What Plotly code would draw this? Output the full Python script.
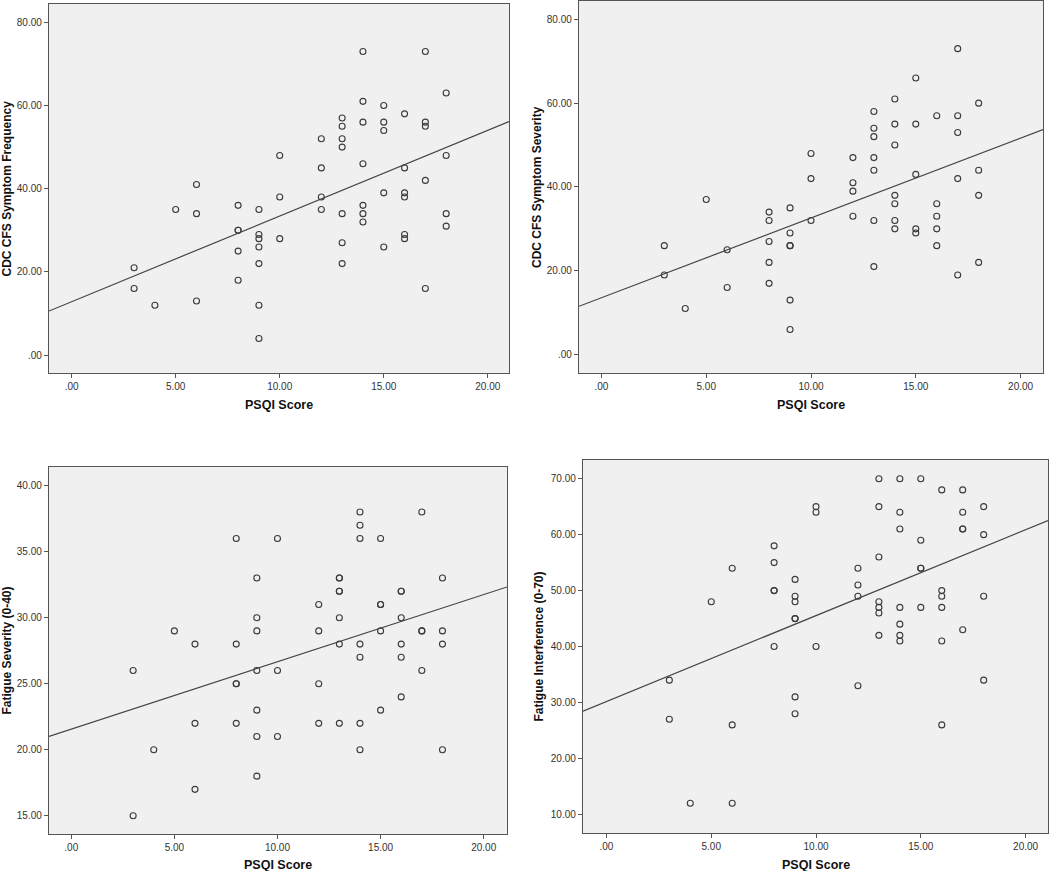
import numpy as np
import plotly.graph_objects as go

# ---------------- data ----------------
x_label = "PSQI Score"

p1_title = "CDC CFS Symptom Frequency"
p1_x = [3]*2 + [4] + [5] + [6]*3 + [8]*5 + [9]*7 + [10]*3 + [12]*4 + [13]*7 + [14]*7 + [15]*5 + [16]*6 + [17]*5 + [18]*4
p1_y = [21, 16, 12, 35, 41, 34, 13, 36, 30, 30, 25, 18, 35, 29, 28, 26, 22, 12, 4, 48, 38, 28,
        52, 45, 38, 35, 57, 55, 52, 50, 34, 27, 22, 73, 61, 56, 46, 36, 34, 32,
        60, 56, 54, 39, 26, 58, 45, 39, 38, 29, 28, 73, 56, 55, 42, 16, 63, 48, 34, 31]

p2_title = "CDC CFS Symptom Severity"
p2_x = [3]*2 + [4] + [5] + [6]*2 + [8]*5 + [9]*6 + [10]*3 + [12]*4 + [13]*7 + [14]*7 + [15]*5 + [16]*5 + [17]*5 + [18]*4
p2_y = [26, 19, 11, 37, 25, 16, 34, 32, 27, 22, 17, 35, 29, 26, 26, 13, 6, 48, 42, 32,
        47, 41, 39, 33, 58, 54, 52, 47, 44, 32, 21, 61, 55, 50, 38, 36, 32, 30,
        66, 55, 43, 30, 29, 57, 36, 33, 30, 26, 73, 57, 53, 42, 19, 60, 44, 38, 22]

p3_title = "Fatigue Severity (0-40)"
p3_x = [3]*2 + [4] + [5] + [6]*3 + [8]*5 + [9]*7 + [10]*3 + [12]*4 + [13]*7 + [14]*7 + [15]*5 + [16]*6 + [17]*4 + [18]*4
p3_y = [26, 15, 20, 29, 28, 22, 17, 36, 28, 25, 25, 22, 33, 30, 29, 26, 23, 21, 18, 36, 26, 21,
        31, 29, 25, 22, 33, 33, 32, 32, 30, 28, 22, 38, 37, 36, 28, 27, 22, 20,
        36, 31, 31, 29, 23, 32, 32, 30, 28, 27, 24, 38, 29, 29, 26, 33, 29, 28, 20]

p4_title = "Fatigue Interference (0-70)"
p4_x = [3]*2 + [4] + [5] + [6]*3 + [8]*5 + [9]*7 + [10]*3 + [12]*4 + [13]*7 + [14]*7 + [15]*5 + [16]*6 + [17]*5 + [18]*4
p4_y = [34, 27, 12, 48, 54, 26, 12, 58, 55, 50, 50, 40, 52, 49, 48, 45, 45, 31, 28, 65, 64, 40,
        54, 51, 49, 33, 70, 65, 56, 48, 47, 46, 42, 70, 64, 61, 47, 44, 42, 41,
        70, 59, 54, 54, 47, 68, 50, 49, 47, 41, 26, 68, 64, 61, 61, 43, 65, 60, 49, 34]

x_tickvals = [0, 5, 10, 15, 20]
x_ticktext = [".00", "5.00", "10.00", "15.00", "20.00"]
p1_yticks = [0, 20, 40, 60, 80]
p1_ytext = [".00", "20.00", "40.00", "60.00", "80.00"]
p2_yticks = [0, 20, 40, 60, 80]
p2_ytext = [".00", "20.00", "40.00", "60.00", "80.00"]
p3_yticks = [15, 20, 25, 30, 35, 40]
p3_ytext = ["15.00", "20.00", "25.00", "30.00", "35.00", "40.00"]
p4_yticks = [10, 20, 30, 40, 50, 60, 70]
p4_ytext = ["10.00", "20.00", "30.00", "40.00", "50.00", "60.00", "70.00"]

# ---------------- layout geometry (pixels) ----------------
W, H = 1050, 871
panels = [
    dict(x=p1_x, y=p1_y, title=p1_title, yt=p1_yticks, ytt=p1_ytext,
         px=(49, 509), py=(4, 373), xr=(-1.09, 21.02), yr=(-4.3, 84.4), ytx=7, xty=405),
    dict(x=p2_x, y=p2_y, title=p2_title, yt=p2_yticks, ytt=p2_ytext,
         px=(579, 1043), py=(1, 373), xr=(-1.07, 21.07), yr=(-4.39, 84.37), ytx=537, xty=405),
    dict(x=p3_x, y=p3_y, title=p3_title, yt=p3_yticks, ytt=p3_ytext,
         px=(49, 507), py=(467, 834), xr=(-1.08, 21.13), yr=(13.62, 41.41), ytx=6, xty=865),
    dict(x=p4_x, y=p4_y, title=p4_title, yt=p4_yticks, ytt=p4_ytext,
         px=(583, 1048), py=(460, 833), xr=(-1.12, 21.07), yr=(6.68, 73.34), ytx=538, xty=865),
]

FONT = "Liberation Sans, Arial, sans-serif"
INK = "#3a3a3a"
fig = go.Figure()
layout = dict(
    width=W, height=H, margin=dict(l=0, r=0, t=0, b=0),
    paper_bgcolor="white", plot_bgcolor="#f0f0f0", showlegend=False,
    font=dict(family=FONT, size=10, color="#333333"),
)
annotations = []
for i, p in enumerate(panels, start=1):
    xa = "x" if i == 1 else f"x{i}"
    ya = "y" if i == 1 else f"y{i}"
    xk = "xaxis" if i == 1 else f"xaxis{i}"
    yk = "yaxis" if i == 1 else f"yaxis{i}"
    xs = np.array(p["x"], dtype=float)
    ys = np.array(p["y"], dtype=float)
    fig.add_trace(go.Scatter(x=xs, y=ys, mode="markers", xaxis=xa, yaxis=ya,
                             marker=dict(symbol="circle-open", size=6, color=INK,
                                         line=dict(width=1.1, color=INK)),
                             hoverinfo="x+y"))
    slope, icpt = np.polyfit(xs, ys, 1)
    lx = np.array(p["xr"])
    fig.add_trace(go.Scatter(x=lx, y=icpt + slope * lx, mode="lines", xaxis=xa, yaxis=ya,
                             line=dict(color="#444444", width=1.2), hoverinfo="skip"))
    xd = [p["px"][0] / W, p["px"][1] / W]
    yd = [1 - p["py"][1] / H, 1 - p["py"][0] / H]
    common = dict(showgrid=False, zeroline=False, showline=True, linecolor="#555555",
                  linewidth=1.3, mirror=True, ticks="outside", ticklen=4, tickcolor="#555555",
                  tickfont=dict(family=FONT, size=10, color="#333333"))
    layout[xk] = dict(domain=xd, anchor=ya, range=list(p["xr"]), tickmode="array",
                      tickvals=x_tickvals, ticktext=x_ticktext, **common)
    layout[yk] = dict(domain=yd, anchor=xa, range=list(p["yr"]), tickmode="array",
                      tickvals=p["yt"], ticktext=p["ytt"], **common)
    annotations.append(dict(text=f"<b>{p['title']}</b>", x=p["ytx"] / W, y=1 - (p["py"][0] + p["py"][1]) / 2 / H,
                            xref="paper", yref="paper", textangle=-90, showarrow=False,
                            xanchor="center", yanchor="middle",
                            font=dict(family=FONT, size=12, color="#111111")))
    annotations.append(dict(text=f"<b>{x_label}</b>", x=(p["px"][0] + p["px"][1]) / 2 / W,
                            y=1 - p["xty"] / H, xref="paper", yref="paper", showarrow=False,
                            xanchor="center", yanchor="middle",
                            font=dict(family=FONT, size=12.5, color="#111111")))
layout["annotations"] = annotations
fig.update_layout(**layout)
fig.write_html("out.html", config={"displayModeBar": False},
               post_script="document.body.style.margin='0';document.body.style.overflow='hidden';")
